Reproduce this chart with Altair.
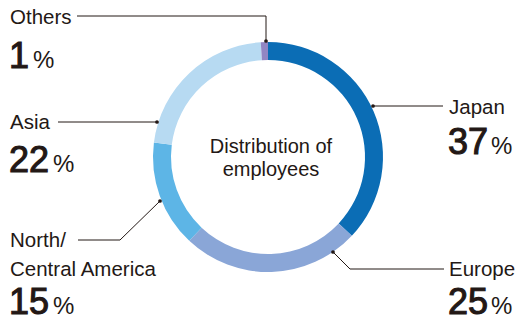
import altair as alt
import pandas as pd

# ---- data ----
regions = ["Japan", "Europe", "North/Central America", "Asia", "Others"]
shares = [37, 25, 15, 22, 1]
colors = ["#0b6db5", "#8aa6d7", "#5db5e6", "#b7daf2", "#9186c3"]
name_lines = [["Japan"], ["Europe"], ["North/", "Central America"], ["Asia"], ["Others"]]
center_lines = ["Distribution of", "employees"]

# ---- layout (page pixels) ----
M = 8
W, H = 509, 311
CX, CY, R_OUT, R_IN = 268, 157, 115, 97
name_x = [449, 449, 10, 10, 10]
name_y = [[114], [276], [247, 276], [129], [24]]
num_x = [448, 448, 9, 9, 9]
num_y = [154, 314, 314, 172, 68]
pct_x = [491, 491, 53, 53, 33]
leaders = [
    [(373, 106), (443, 106)],
    [(333, 252), (350, 269), (444, 269)],
    [(160, 201), (120, 240), (78, 240)],
    [(157, 122), (58, 122)],
    [(266, 41), (266, 16), (77, 16)],
]
center_y = [153, 176]

INK = "#231815"
FONT = "Liberation Sans"

arc_df = pd.DataFrame({"region": regions, "share": shares, "ord": list(range(len(regions)))})

name_rows, num_rows, line_rows, dot_rows = [], [], [], []
for i, r in enumerate(regions):
    for t, yy in zip(name_lines[i], name_y[i]):
        name_rows.append({"t": t, "x": name_x[i], "y": yy})
    num_rows.append({"n": str(shares[i]), "x": num_x[i], "px": pct_x[i], "y": num_y[i]})
    for k, (px, py) in enumerate(leaders[i]):
        line_rows.append({"region": r, "k": k, "x": px, "y": py})
    dot_rows.append({"x": leaders[i][0][0], "y": leaders[i][0][1]})
center_rows = [{"t": t, "x": CX + 3, "y": yy} for t, yy in zip(center_lines, center_y)]

xs = alt.Scale(domain=[M, M + W], nice=False, zero=False)
ys = alt.Scale(domain=[M, M + H], nice=False, zero=False, reverse=True)
X = lambda f="x": alt.X(f"{f}:Q", scale=xs, axis=None)
Y = lambda: alt.Y("y:Q", scale=ys, axis=None)

arcs = alt.Chart(arc_df).mark_arc(radius=R_OUT, radius2=R_IN, strokeWidth=0).encode(
    theta=alt.Theta("share:Q", stack=True),
    order=alt.Order("ord:Q"),
    color=alt.Color("region:N", scale=alt.Scale(domain=regions, range=colors), legend=None),
    x=alt.value(CX - M),
    y=alt.value(CY - M),
)

lines = alt.Chart(pd.DataFrame(line_rows)).mark_line(color=INK, strokeWidth=1).encode(
    x=X(), y=Y(), detail="region:N", order="k:Q"
)
dots = alt.Chart(pd.DataFrame(dot_rows)).mark_circle(color=INK, size=14, opacity=1).encode(x=X(), y=Y())

names = alt.Chart(pd.DataFrame(name_rows)).mark_text(
    align="left", baseline="alphabetic", font=FONT, fontSize=20.5, color=INK
).encode(x=X(), y=Y(), text="t:N")

nums = alt.Chart(pd.DataFrame(num_rows)).mark_text(
    align="left", baseline="alphabetic", font=FONT, fontSize=36, color=INK,
    stroke=INK, strokeWidth=1.1
).encode(x=X(), y=Y(), text="n:N")

pcts = alt.Chart(pd.DataFrame(num_rows)).mark_text(
    align="left", baseline="alphabetic", font=FONT, fontSize=24, color=INK, text="%"
).encode(x=X("px"), y=Y())

center = alt.Chart(pd.DataFrame(center_rows)).mark_text(
    align="center", baseline="alphabetic", font=FONT, fontSize=20, color=INK
).encode(x=X(), y=Y(), text="t:N")

chart = alt.layer(arcs, lines, dots, names, nums, pcts, center).properties(
    width=W, height=H, padding=0, autosize=alt.AutoSizeParams(type="none")
).configure_view(stroke=None)

chart.save("out.html", embed_options={"renderer": "svg", "actions": False})
